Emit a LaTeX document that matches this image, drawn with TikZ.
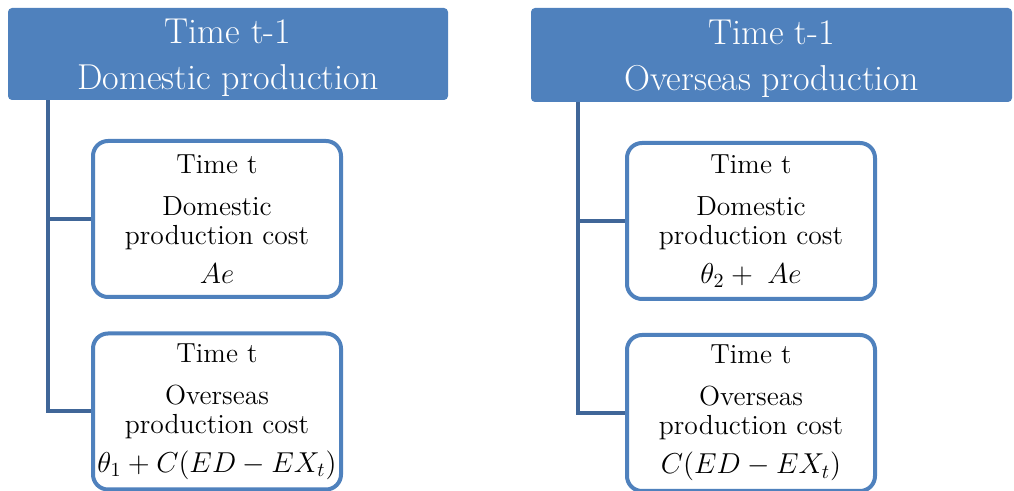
\documentclass[tikz,border=0pt]{standalone}
\usepackage{amsmath}
\usepackage{xcolor}
\usetikzlibrary{positioning,calc}

\definecolor{headblue}{RGB}{79,129,189}
\definecolor{lineblue}{RGB}{64,102,152}

\tikzset{
  headbox/.style={draw=none,fill=headblue,rounded corners=2pt,inner sep=0pt},
  headtext/.style={text=white,align=center,inner sep=0pt,
    font=\fontsize{18}{23}\selectfont},
  costbox/.style={draw=headblue,line width=2pt,fill=white,rounded corners=7.5pt,
    minimum width=124pt,minimum height=78pt,inner sep=0pt,align=center,
    font=\fontsize{13.8}{14.5}\selectfont},
  branch/.style={draw=lineblue,line width=2pt}
}

\begin{document}
\begin{tikzpicture}[x=0.5pt,y=-0.5pt]
  \useasboundingbox (0,0) rectangle (1014,491);
  % headers
  \node[headbox,minimum width=220pt,minimum height=46pt] (dhead) at (228,54) {};
  \node[headtext] (dheadtext) at ($(dhead)+(0,4)$) {Time t-1\\Domestic production};
  \node[headbox,minimum width=240.5pt,minimum height=47pt] (ohead) at (771.5,55) {};
  \node[headtext] (oheadtext) at ($(ohead)+(0,4)$) {Time t-1\\Overseas production};
  % cost boxes
  \node[costbox] (dd) at (217,219) {Time t\\[6.5pt]Domestic\\production cost\\[5pt]$Ae$};
  \node[costbox] (do) at (217,411.5) {Time t\\[6.5pt]Overseas\\production cost\\[5pt]$\theta_1 + C(ED - EX_t)$};
  \node[costbox] (od) at (751,221) {Time t\\[6.5pt]Domestic\\production cost\\[5pt]$\theta_2 + \;Ae$};
  \node[costbox] (oo) at (751,413) {Time t\\[6.5pt]Overseas\\production cost\\[5pt]$C(ED - EX_t)$};
  % trunks
  \coordinate (dtrunk) at ($(dhead.south west)+(40,0)$);
  \coordinate (otrunk) at ($(ohead.south west)+(47,0)$);
  \draw[branch] (dtrunk) |- (dd.west);
  \draw[branch] (dtrunk) |- (do.west);
  \draw[branch] (otrunk) |- (od.west);
  \draw[branch] (otrunk) |- (oo.west);
\end{tikzpicture}
\end{document}
